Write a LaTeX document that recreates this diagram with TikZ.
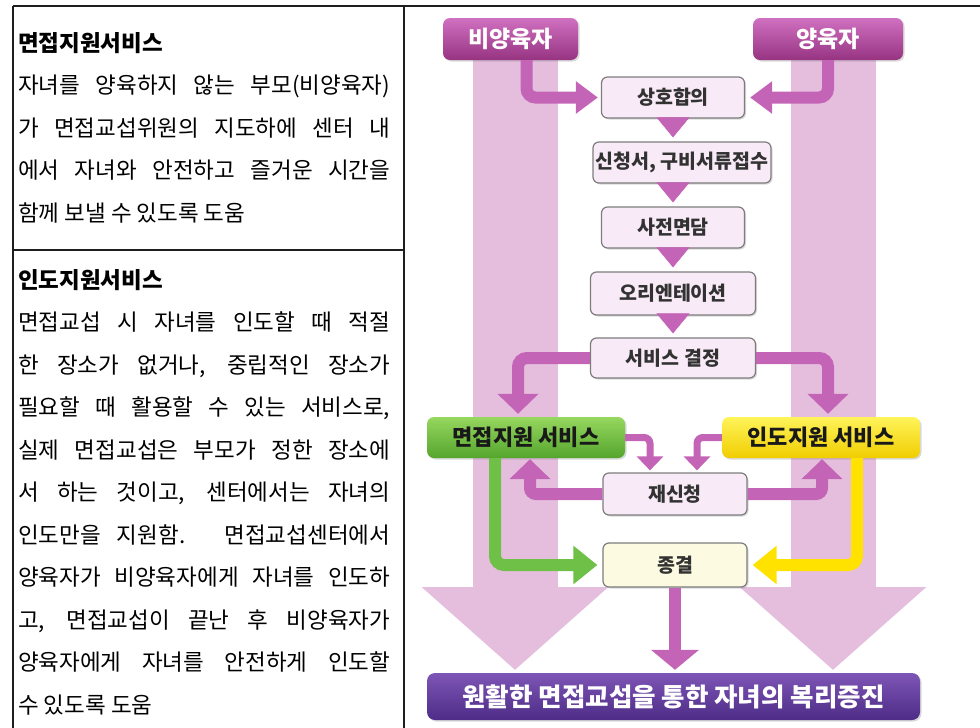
\documentclass[tikz,border=0pt]{standalone}
\usepackage{fontspec}
\setmainfont{Noto Sans CJK KR}
\usetikzlibrary{arrows.meta,shadows}

\definecolor{colpink}{RGB}{229,190,222}
\definecolor{magband}{RGB}{196,100,182}
\definecolor{magtop}{RGB}{208,112,192}
\definecolor{magbot}{RGB}{150,52,130}
\definecolor{stepfill}{RGB}{248,234,246}
\definecolor{stepline}{RGB}{125,125,125}
\definecolor{greentop}{RGB}{150,215,95}
\definecolor{greenbot}{RGB}{85,165,45}
\definecolor{greenband}{RGB}{110,192,70}
\definecolor{yeltop}{RGB}{255,244,90}
\definecolor{yelbot}{RGB}{240,205,0}
\definecolor{yelband}{RGB}{255,226,0}
\definecolor{purtop}{RGB}{125,85,182}
\definecolor{purbot}{RGB}{78,44,135}
\definecolor{endfill}{RGB}{252,251,226}
\definecolor{txtgray}{RGB}{50,50,50}
\definecolor{rulecol}{RGB}{30,30,30}

\newcommand{\jline}[1]{\makebox[372pt][s]{#1}}

\tikzset{
  textcol/.style={align=left, inner sep=0pt, font=\fontsize{22.5}{42.5}\selectfont},
  softshadow/.style={drop shadow={opacity=0.3, shadow xshift=1.5pt, shadow yshift=-1.5pt}},
  stepbox/.style={draw=stepline, line width=1.2pt, fill=stepfill, rounded corners=6pt,
    minimum height=41pt, inner xsep=2pt, inner ysep=1pt, text=txtgray, softshadow,
    font=\fontsize{19.5}{21}\selectfont\bfseries},
  parentbox/.style={rounded corners=7pt, top color=magtop, bottom color=magbot,
    minimum height=42pt, text=white, softshadow, font=\fontsize{23}{25}\selectfont\bfseries},
  servicebox/.style={rounded corners=7pt, minimum width=198pt, minimum height=41pt,
    inner ysep=1pt, text=black!90, softshadow, font=\fontsize{22}{24}\selectfont\bfseries},
  band/.style={line width=12pt, draw=magband, rounded corners=9pt},
  thinband/.style={line width=7pt, draw=magband, rounded corners=6pt},
  colband/.style={line width=85pt, draw=colpink, -{Triangle[width=182pt,length=83pt]}}
}

\begin{document}
\begin{tikzpicture}[x=1pt,y=-1pt]
    \useasboundingbox (0,0) rectangle (980,728);
    % table rules
    \draw[rulecol, line width=1.3pt] (13,6) -- (980,6);
    \draw[rulecol, line width=1.3pt] (13,6) -- (13,728);
    \draw[rulecol, line width=1.3pt] (404,6) -- (404,728);
    \draw[rulecol, line width=1.3pt] (13,250) -- (404,250);

    \node[textcol, anchor=north west] (meet) at (18,32) {{\bfseries 면접지원서비스}\\
        \jline{자녀를 양육하지 않는 부모(비양육자)}\\
        \jline{가 면접교섭위원의 지도하에 센터 내}\\
        \jline{에서 자녀와 안전하고 즐거운 시간을}\\
        함께 보낼 수 있도록 도움};
    \node[textcol, anchor=north west] (hand) at (18,269) {{\bfseries 인도지원서비스}\\
        \jline{면접교섭 시 자녀를 인도할 때 적절}\\
        \jline{한 장소가 없거나, 중립적인 장소가}\\
        \jline{필요할 때 활용할 수 있는 서비스로,}\\
        \jline{실제 면접교섭은 부모가 정한 장소에}\\
        \jline{서 하는 것이고, 센터에서는 자녀의}\\
        \jline{인도만을 지원함. 면접교섭센터에서}\\
        \jline{양육자가 비양육자에게 자녀를 인도하}\\
        \jline{고, 면접교섭이 끝난 후 비양육자가}\\
        \jline{양육자에게 자녀를 안전하게 인도할}\\
        수 있도록 도움};

    % wide pale columns
    \coordinate (colLtop) at (515,60);
    \coordinate (colLtip) at (515,670);
    \coordinate (colRtop) at (833,60);
    \coordinate (colRtip) at (833,670);
    \draw[colband] (colLtop) -- (colLtip);
    \draw[colband] (colRtop) -- (colRtip);

    \node[parentbox, minimum width=135pt] (nonpar) at (510.5,39) {비양육자};
    \node[parentbox, minimum width=150pt] (par) at (828,39) {양육자};

    \node[stepbox, minimum width=143pt] (agree) at (673,97.5) {상호합의};
    \node[stepbox, minimum width=178pt] (apply) at (682,162.5) {신청서, 구비서류접수};
    \node[stepbox, minimum width=143pt] (pre) at (673,227.5) {사전면담};
    \node[stepbox, minimum width=165pt, minimum height=43pt] (orient) at (673,293.5) {오리엔테이션};
    \node[stepbox, minimum width=165pt, minimum height=40pt] (decide) at (673,358) {서비스 결정};

    \node[servicebox, top color=greentop, bottom color=greenbot] (visit) at (526,437.5) {면접지원 서비스};
    \node[servicebox, top color=yeltop, bottom color=yelbot] (handover) at (821,437.5) {인도지원 서비스};

    \node[stepbox, minimum width=144pt, minimum height=42pt] (reapply) at (675,494) {재신청};
    \node[stepbox, fill=endfill, minimum width=144pt, minimum height=44pt] (finish) at (675,565) {종결};

    \node[rounded corners=8pt, top color=purtop, bottom color=purbot, minimum width=493pt,
        minimum height=47pt, inner ysep=1pt, text=white, softshadow,
        font=\fontsize{25.5}{27}\selectfont\bfseries] (goal) at (673.5,696.5) {원활한 면접교섭을 통한 자녀의 복리증진};

    % parents to agreement
    \draw[band, shorten >=3pt, -{Triangle[width=31pt,length=22pt]}] ([xshift=16pt]nonpar.south) |- (agree.west);
    \draw[band, shorten >=5pt, -{Triangle[width=31pt,length=22pt]}] (par.south) |- (agree.east);

    % step chain
    \draw[band, line width=0.5pt, shorten >=4pt, -{Triangle[width=33pt,length=20pt]}] (agree.south) -- (agree.south |- apply.north);
    \draw[band, line width=0.5pt, shorten >=4pt, -{Triangle[width=33pt,length=20pt]}] (agree.south |- apply.south) -- (agree.south |- pre.north);
    \draw[band, line width=0.5pt, shorten >=4pt, -{Triangle[width=33pt,length=20pt]}] (pre.south) -- (pre.south |- orient.north);
    \draw[band, line width=0.5pt, shorten >=4pt, -{Triangle[width=33pt,length=20pt]}] (orient.south) -- (orient.south |- decide.north);

    % decision branches
    \draw[band, shorten >=3pt, -{Triangle[width=40pt,length=20pt]}] (decide.west) -| ([xshift=-8pt]visit.north);
    \draw[band, shorten >=3pt, -{Triangle[width=40pt,length=20pt]}] (decide.east) -| ([xshift=7pt]handover.north);

    % re-application loop
    \draw[thinband, shorten >=2pt, -{Triangle[width=26pt,length=14pt]}] (visit.east) -| ([xshift=-25pt]reapply.north);
    \draw[thinband, shorten >=2pt, -{Triangle[width=26pt,length=14pt]}] (handover.west) -| ([xshift=22pt]reapply.north);
    \draw[band, rounded corners=6pt, shorten >=1pt, -{Triangle[width=40pt,length=20pt]}] (reapply.west) -| ([xshift=4pt]visit.south);
    \draw[band, rounded corners=6pt, shorten >=1pt, -{Triangle[width=40pt,length=20pt]}] (reapply.east) -| ([xshift=1pt]handover.south);

    % services to end
    \draw[band, draw=greenband, shorten >=5pt, -{Triangle[width=37pt,length=24pt]}] ([xshift=-31pt]visit.south) |- (finish.west);
    \draw[band, draw=yelband, shorten >=5pt, -{Triangle[width=37pt,length=24pt]}] ([xshift=36pt]handover.south) |- (finish.east);

    \draw[band, shorten >=3pt, -{Triangle[width=47pt,length=20pt]}] (finish.south) -- (finish.south |- goal.north);
\end{tikzpicture}
\end{document}
